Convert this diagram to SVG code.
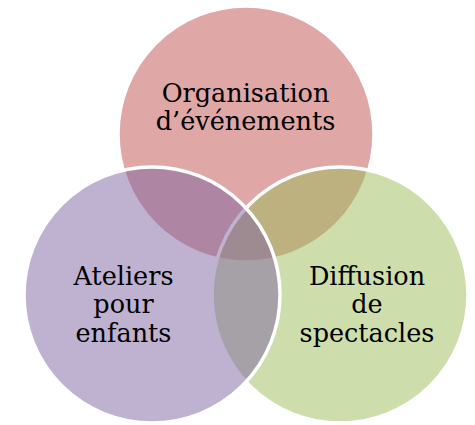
<svg xmlns="http://www.w3.org/2000/svg" width="475" height="425" viewBox="0 0 475 425">
<style>
.c{stroke:#FFFFFF;stroke-width:3.5;fill-opacity:0.5}
.t{font-family:"DejaVu Serif","Liberation Serif",serif;font-size:25.5px;fill:#000000;text-anchor:middle}
</style>
<rect width="475" height="425" fill="#FFFFFF"/>
<g id="connectors"></g>
<g id="node-organisation">
<circle class="c" cx="246" cy="134" r="128" fill="#C0504D"/>
</g>
<g id="node-diffusion">
<circle class="c" cx="340" cy="295" r="128" fill="#9BBB59"/>
</g>
<g id="node-ateliers">
<circle class="c" cx="152" cy="295" r="128" fill="#8064A2"/>
</g>
<g id="labels">
<text class="t" x="245.5" y="101.5">Organisation</text>
<text class="t" x="245.5" y="129.5">d’événements</text>
<text class="t" x="123.5" y="285">Ateliers</text>
<text class="t" x="123.5" y="313">pour</text>
<text class="t" x="123.5" y="342">enfants</text>
<text class="t" x="367" y="285">Diffusion</text>
<text class="t" x="367" y="313">de</text>
<text class="t" x="367" y="342">spectacles</text>
</g>
</svg>
